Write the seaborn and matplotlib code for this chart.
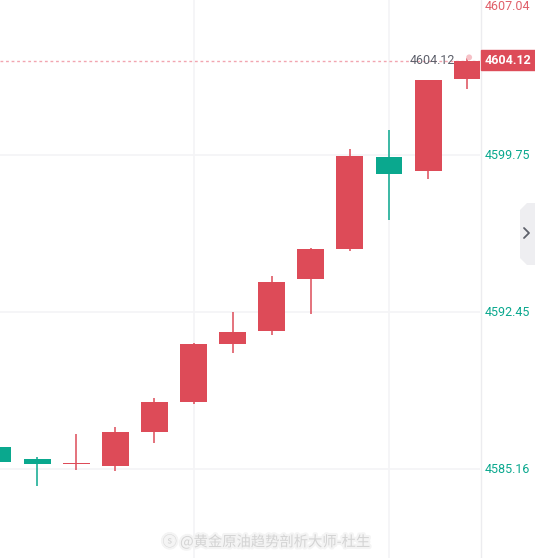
import matplotlib
matplotlib.use("Agg")
import matplotlib.pyplot as plt
import matplotlib.patheffects as pe
import seaborn as sns
import pandas as pd
from matplotlib.patches import Polygon

# ---- data ----
idx    = [0, 1, 2, 3, 4, 5, 6, 7, 8, 9, 10, 11, 12]
opens  = [4586.20, 4585.64, 4585.40, 4585.33, 4586.91, 4588.30, 4591.00, 4591.60, 4594.02, 4595.41, 4599.67, 4599.03, 4603.30]
closes = [4585.50, 4585.42, 4585.43, 4586.89, 4588.29, 4590.98, 4591.54, 4593.86, 4595.40, 4599.72, 4598.90, 4603.25, 4604.12]
highs  = [4586.25, 4585.73, 4586.80, 4587.13, 4588.47, 4591.03, 4592.47, 4594.14, 4595.42, 4600.04, 4600.93, 4603.27, 4604.25]
lows   = [4585.45, 4584.40, 4585.13, 4585.10, 4586.40, 4588.21, 4590.58, 4591.42, 4592.38, 4595.32, 4596.76, 4598.66, 4602.83]
ytick_vals = [4585.16, 4592.45, 4599.75]
ytick_labels = ["4585.16", "4592.45", "4599.75"]
top_label = "4607.04"
last_price = 4604.12
last_label = "4604.12"
watermark = "@黄金原油趋势剖析大师-杜生"

df = pd.DataFrame({"i": idx, "open": opens, "close": closes, "high": highs, "low": lows})
df["up"] = df["close"] >= df["open"]

UP = "#dd4b58"
DOWN = "#0aa88e"
GRID = "#f4f4f6"
NUMFONT = ["Roboto", "DejaVu Sans"]

sns.set_theme(style="white")
plt.rcParams["font.family"] = ["Noto Sans CJK SC", "DejaVu Sans"]

W, H = 535, 558
fig = plt.figure(figsize=(W / 100, H / 100), dpi=100)
ax = fig.add_axes([0, 0, 480 / W, 1])

x0_px, step_px = -2.0, 39.1
ax.set_xlim((0 - x0_px) / step_px, (480 - x0_px) / step_px)
slope = 7.295 / 157.0
ax.set_ylim(4599.75 - (558 - 155.3) * slope, 4599.75 + 155.3 * slope)

# grid
for v in ytick_vals:
    ax.axhline(v, color=GRID, lw=1.2, zorder=0)
for xv in [5, 10]:
    ax.axvline(xv, color=GRID, lw=1.2, zorder=0)

# candles
for _, r in df.iterrows():
    c = UP if r["up"] else DOWN
    ax.vlines(r["i"], r["low"], r["high"], color=c, lw=1.1, zorder=2)
    body = max(abs(r["close"] - r["open"]), 0.03)
    ax.bar(r["i"], body, bottom=min(r["open"], r["close"]), width=0.69,
           color=c, edgecolor=c, linewidth=0, zorder=3)

# last price line
ax.axhline(last_price, color="#f2a5b0", lw=1.0, ls=(0, (2, 2)), zorder=1)
xl = ax.get_xlim()
ax.text(xl[0] + 455 / 480 * (xl[1] - xl[0]), last_price + 0.03,
        last_label, color="#5d606b", fontsize=9, ha="right", va="center",
        family=NUMFONT, zorder=4)
sns.scatterplot(x=[12.05], y=[4604.3], color="#f6c1c7", s=18, ax=ax, zorder=4,
                edgecolor="none", legend=False)

for s in ax.spines.values():
    s.set_visible(False)
ax.set_xticks([])
ax.set_yticks([])
ax.set_xlabel("")
ax.set_ylabel("")

# right price scale
ymin, ymax = ax.get_ylim()
def fy(v):
    return (v - ymin) / (ymax - ymin)

fig.add_artist(plt.Line2D([481 / W, 481 / W], [0, 1], color="#ececef", lw=1.0))
for v, lab in zip(ytick_vals, ytick_labels):
    fig.text(485 / W, fy(v), lab, color=DOWN, fontsize=9, ha="left", va="center",
             family=NUMFONT)
fig.text(485 / W, 1 - 6 / H, top_label, color="#e0606a", fontsize=9, ha="left",
         va="center", family=NUMFONT)

# last price badge
fig.patches.append(plt.Rectangle((481 / W, 1 - 70 / H), 54 / W, 20 / H,
                                 transform=fig.transFigure, color=UP, zorder=5))
fig.text(485 / W, 1 - 60.5 / H, last_label, color="white", fontsize=9, ha="left",
         va="center", fontweight="bold", family=NUMFONT, zorder=6)

# side button
pts = [(520, 210), (527, 203), (535, 203), (535, 265), (527, 265), (520, 258)]
poly = Polygon([(x / W, 1 - y / H) for x, y in pts], closed=True,
               transform=fig.transFigure, facecolor="#eeeef1", edgecolor="none", zorder=5)
fig.patches.append(poly)
fig.add_artist(plt.Line2D([524 / W, 529 / W, 524 / W],
                          [1 - 228 / H, 1 - 233 / H, 1 - 238 / H],
                          color="#5d606b", lw=1.3, zorder=6))

# watermark
fig.text(266 / W, 1 - 542 / H, "ⓢ " + watermark, color="#d4d4d4", fontsize=10.3,
         ha="center", va="center",
         path_effects=[pe.withStroke(linewidth=3, foreground="#f4f4f4")], zorder=6)

fig.savefig("out.png", dpi=100, facecolor="white")
